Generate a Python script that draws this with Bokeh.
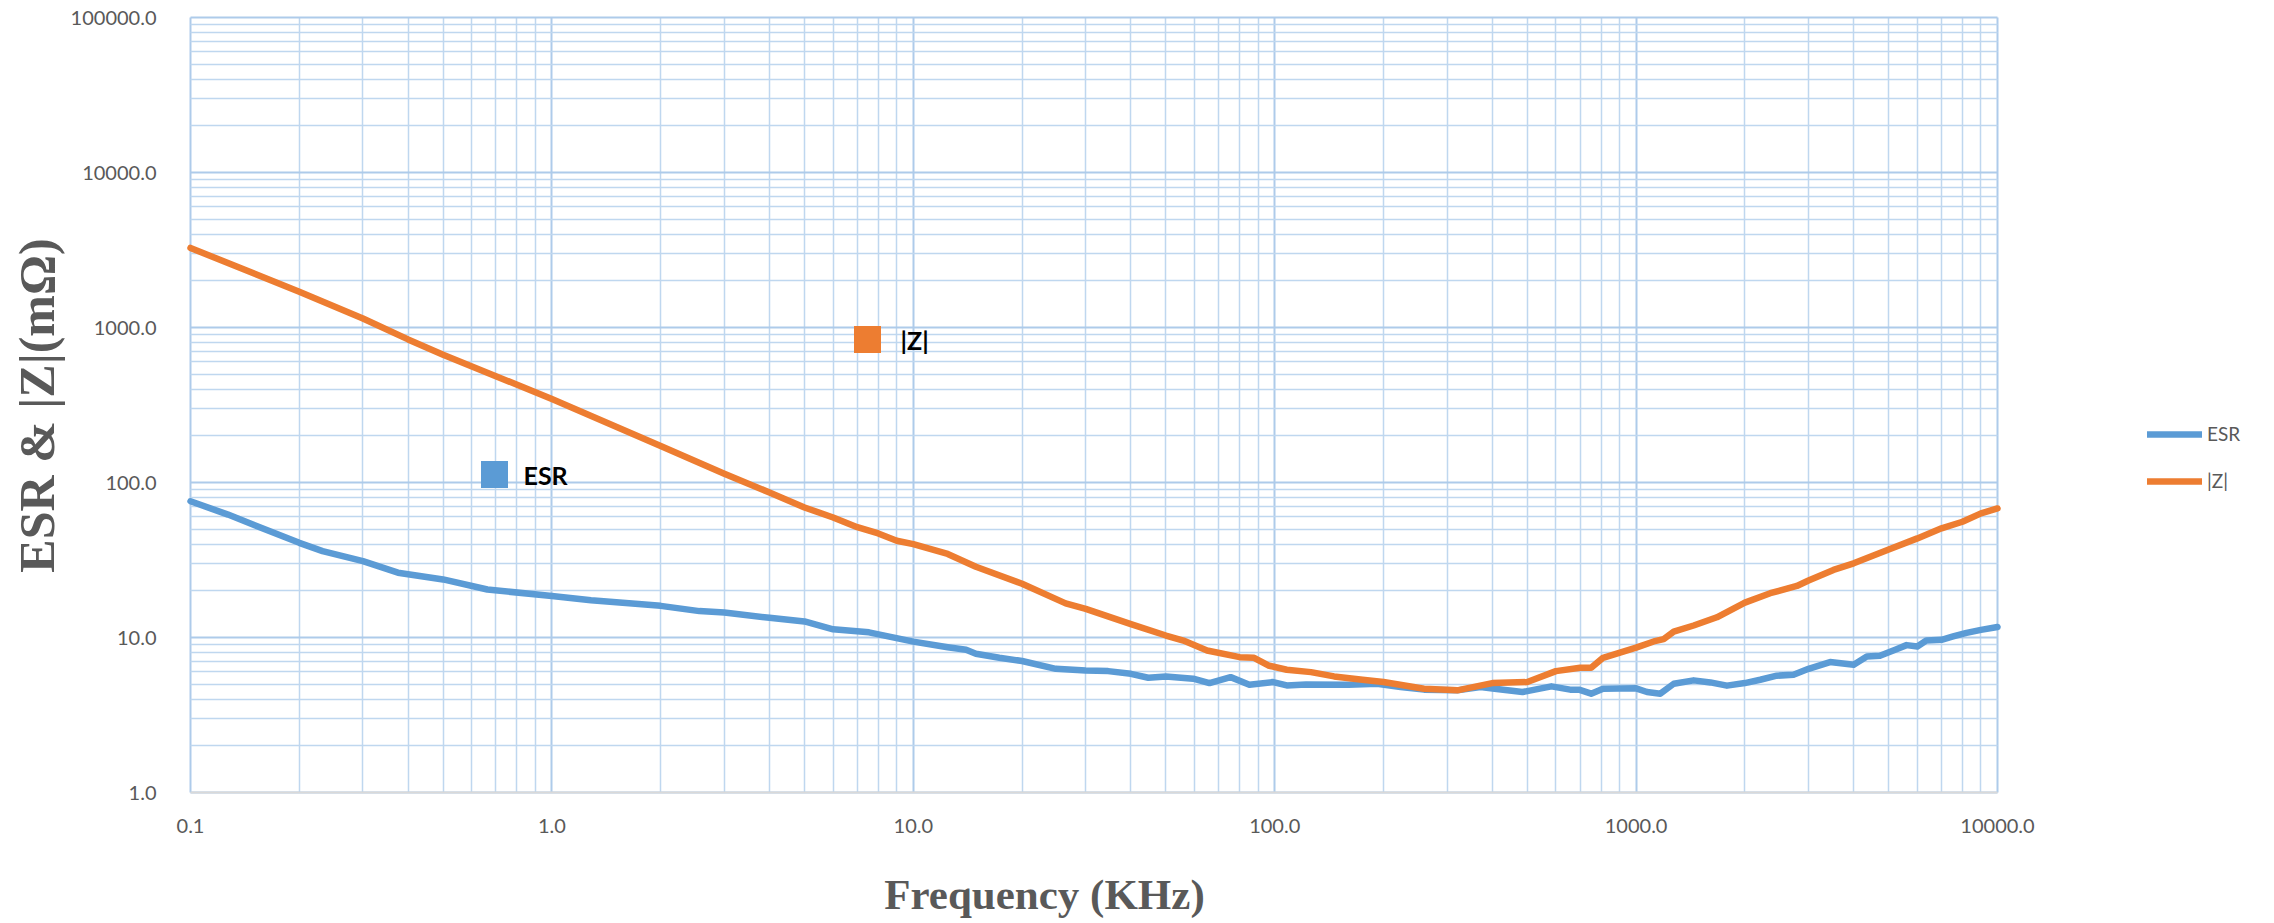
import math
from bokeh.plotting import figure
from bokeh.models import Range1d, FixedTicker, Legend, LegendItem
from bokeh.core.properties import value
from bokeh.embed import file_html
from bokeh.resources import INLINE

# ---------------- data ----------------
freq_esr = [0.1, 0.127, 0.2, 0.232, 0.3, 0.375, 0.5, 0.663, 1.0, 1.283, 2.0, 2.56,
            3.0, 4.0, 5.0, 6.0, 7.54, 10.0, 12.45, 14.0, 14.9, 17.3, 20.0, 24.8,
            30.0, 34.6, 40.0, 44.7, 50.0, 59.5, 66.0, 75.5, 85.1, 99.0, 108.0,
            122.0, 160.0, 192.0, 223.0, 259.0, 320.0, 371.0, 406.0, 485.0, 583.0,
            657.0, 695.0, 751.0, 810.0, 1000.0, 1072.0, 1167.0, 1271.0, 1443.0,
            1605.0, 1784.0, 2000.0, 2205.0, 2451.0, 2726.0, 3000.0, 3441.0,
            4000.0, 4349.0, 4728.0, 5253.0, 5602.0, 6000.0, 6354.0, 7000.0,
            7537.0, 8209.0, 9000.0, 10000.0]
esr = [75.7, 62.1, 40.8, 36.1, 31.1, 26.2, 23.7, 20.4, 18.5, 17.4, 16.0, 14.8,
       14.5, 13.4, 12.7, 11.3, 10.8, 9.4, 8.66, 8.33, 7.85, 7.40, 7.05, 6.28,
       6.13, 6.07, 5.83, 5.50, 5.61, 5.42, 5.08, 5.55, 4.96, 5.16, 4.91,
       4.98, 4.96, 5.03, 4.79, 4.61, 4.56, 4.79, 4.67, 4.45, 4.84,
       4.61, 4.61, 4.34, 4.67, 4.70, 4.45, 4.34, 5.03, 5.29,
       5.13, 4.89, 5.08, 5.34, 5.67, 5.75, 6.28, 6.94,
       6.67, 7.55, 7.62, 8.41, 8.93, 8.75, 9.56, 9.66,
       10.15, 10.7, 11.2, 11.7]

freq_z = [0.1, 0.2, 0.3, 0.4, 0.5, 1.0, 2.0, 3.0, 4.0, 5.0, 6.0, 7.0, 8.0, 9.0,
          10.0, 12.45, 14.9, 20.0, 26.4, 30.0, 40.0, 50.0, 55.9, 65.0, 80.0,
          87.7, 96.0, 108.0, 126.0, 146.0, 175.0, 200.0, 259.0, 320.0, 400.0,
          500.0, 600.0, 700.0, 751.0, 810.0, 1000.0, 1119.0, 1192.0, 1271.0,
          1443.0, 1673.0, 2000.0, 2350.0, 2785.0, 3000.0, 3516.0, 4000.0,
          5000.0, 6000.0, 7000.0, 8000.0, 9000.0, 10000.0]
z = [3260, 1700, 1144, 838, 668, 346, 172, 114, 86.2, 69.0, 59.5, 51.5, 46.9, 42.1,
     40.0, 34.6, 28.6, 22.2, 16.6, 15.3, 12.2, 10.3, 9.56, 8.25, 7.47,
     7.40, 6.6, 6.19, 5.98, 5.61, 5.34, 5.16, 4.67, 4.56, 5.08,
     5.16, 6.07, 6.38, 6.38, 7.40, 8.6, 9.43, 9.76, 10.9,
     11.95, 13.5, 16.8, 19.3, 21.5, 23.3, 27.3, 30.1,
     37.0, 43.6, 50.6, 55.8, 63.2, 68.0]

series_names = ["ESR", "|Z|"]
series_colors = ["#5B9BD5", "#ED7D31"]

x_ticks = [0.1, 1, 10, 100, 1000, 10000]
x_tick_labels = ["0.1", "1.0", "10.0", "100.0", "1000.0", "10000.0"]
y_ticks = [1, 10, 100, 1000, 10000, 100000]
y_tick_labels = ["1.0", "10.0", "100.0", "1000.0", "10000.0", "100000.0"]

x_title = "Frequency (KHz)"
y_title = "ESR & |Z|(m\u03a9)"

# ---------------- layout (pixels of the screenshot) ----------------
OFFSET = 0                # canvas origin observed at the page corner
W, H = 2270, 920
PX_LEFT, PX_RIGHT = 190, 1997     # x of 0.1 and 10000
PX_TOP, PX_BOTTOM = 17, 792       # y of 100000 and 1


def page_x_to_data(px):
    per = (PX_RIGHT - PX_LEFT) / 5.0
    return 10 ** (-1 + (px - PX_LEFT) / per)


def page_y_to_data(py):
    per = (PX_BOTTOM - PX_TOP) / 5.0
    return 10 ** ((PX_BOTTOM - py) / per)


x_lo, x_hi = page_x_to_data(OFFSET), page_x_to_data(OFFSET + W)
y_hi, y_lo = page_y_to_data(OFFSET), page_y_to_data(OFFSET + H)

p = figure(width=W, height=H, x_axis_type="log", y_axis_type="log",
           x_range=Range1d(x_lo, x_hi), y_range=Range1d(y_lo, y_hi),
           output_backend="svg", toolbar_location=None, min_border=0)
p.outline_line_color = None
p.background_fill_color = "white"
p.border_fill_color = "white"


def minor_of(lo_exp, hi_exp):
    out = []
    for e in range(lo_exp, hi_exp):
        for k in range(2, 10):
            out.append(k * 10.0 ** e)
    return out


xt = FixedTicker(ticks=x_ticks, minor_ticks=minor_of(-1, 4))
yt = FixedTicker(ticks=y_ticks, minor_ticks=minor_of(0, 5))
p.xaxis.ticker = xt
p.yaxis.ticker = yt
p.xgrid.ticker = xt
p.ygrid.ticker = yt
p.xaxis.major_label_overrides = {t: l for t, l in zip(x_ticks, x_tick_labels)}
p.yaxis.major_label_overrides = {t: l for t, l in zip(y_ticks, y_tick_labels)}

p.xaxis.fixed_location = y_ticks[0]
p.yaxis.fixed_location = x_ticks[0]
p.xaxis.bounds = (x_ticks[0], x_ticks[-1])
p.yaxis.bounds = (y_ticks[0], y_ticks[-1])

for ax in (p.xaxis, p.yaxis):
    ax.major_tick_line_color = None
    ax.minor_tick_line_color = None
    ax.major_label_text_font = "Lato"
    ax.major_label_text_font_size = "20px"
    ax.major_label_text_color = "#595959"

p.xaxis.axis_line_color = "#D9D9D9"
p.xaxis.axis_line_width = 2
p.xaxis.major_label_standoff = 20
p.yaxis.axis_line_color = None
p.yaxis.major_label_standoff = 28

p.xgrid.bounds = (x_ticks[0], x_ticks[-1])
p.xgrid.cross_bounds = (y_ticks[0], y_ticks[-1])
p.ygrid.bounds = (y_ticks[0], y_ticks[-1])
p.ygrid.cross_bounds = (x_ticks[0], x_ticks[-1])
for g in (p.xgrid, p.ygrid):
    g.grid_line_color = "#AECBEA"
    g.grid_line_width = 2
    g.minor_grid_line_color = "#BFD7EF"
    g.minor_grid_line_width = 1.5

# series
r_esr = p.line(freq_esr, esr, line_color=series_colors[0], line_width=6.5,
               line_join="round", line_cap="round")
r_z = p.line(freq_z, z, line_color=series_colors[1], line_width=6.5,
             line_join="round", line_cap="round")

# data labels with legend keys (anchored at screenshot positions)
esr_key = (page_x_to_data(494), page_y_to_data(474))
esr_txt = (page_x_to_data(523), page_y_to_data(474))
z_key = (page_x_to_data(867), page_y_to_data(339))
z_txt = (page_x_to_data(900), page_y_to_data(339))

p.scatter([esr_key[0]], [esr_key[1]], marker="square", size=27,
          fill_color=series_colors[0], line_color=None)
p.scatter([z_key[0]], [z_key[1]], marker="square", size=27,
          fill_color=series_colors[1], line_color=None)
p.text([esr_txt[0]], [esr_txt[1]], text=[series_names[0]],
       text_font=value("Lato"), text_font_style="bold", text_font_size="25px",
       text_color="black", text_baseline="middle", text_align="left")
p.text([z_txt[0]], [z_txt[1]], text=[series_names[1]],
       text_font=value("Lato"), text_font_style="bold", text_font_size="25px",
       text_color="black", text_baseline="middle", text_align="left")

# axis titles
p.text([page_x_to_data(1044)], [page_y_to_data(894)], text=[x_title],
       text_font=value("Liberation Serif"), text_font_style="bold",
       text_font_size="43px", text_color="#595959",
       text_align="center", text_baseline="middle")
p.text([page_x_to_data(36)], [page_y_to_data(405)], text=[y_title],
       angle=math.pi / 2,
       text_font=value("Liberation Serif"), text_font_style="bold",
       text_font_size="50px", text_color="#595959",
       text_align="center", text_baseline="middle")

# legend (right of the plot area)
legend = Legend(items=[LegendItem(label=series_names[0], renderers=[r_esr]),
                       LegendItem(label=series_names[1], renderers=[r_z])],
                location=(2147 - OFFSET, (OFFSET + H) - 492), padding=0, margin=0,
                spacing=24, glyph_width=55, glyph_height=20, label_standoff=5,
                label_text_font="Lato", label_text_font_size="19px",
                label_text_color="#595959", border_line_color=None,
                background_fill_alpha=0)
p.add_layout(legend)

open("out.html", "w").write(file_html(p, INLINE))
